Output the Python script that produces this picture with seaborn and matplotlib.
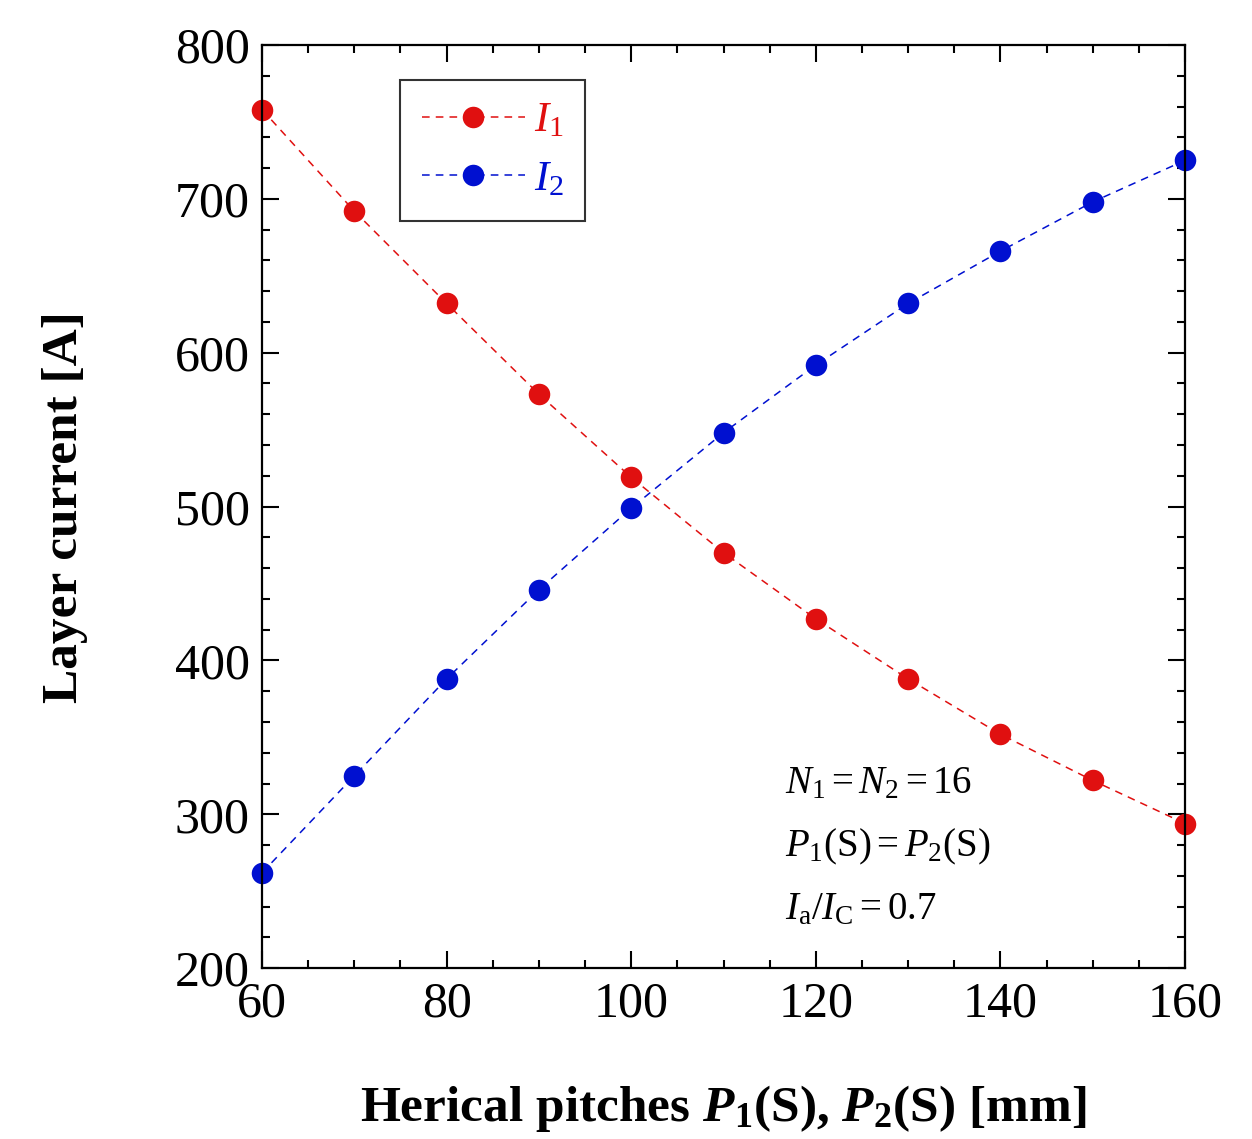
import matplotlib
matplotlib.use("Agg")
import matplotlib.pyplot as plt
from matplotlib.ticker import MultipleLocator
import seaborn as sns
import pandas as pd

pitch = [60, 70, 80, 90, 100, 110, 120, 130, 140, 150, 160]
I1 = [758, 692, 632, 573, 519, 470, 427, 388, 352, 322, 294]
I2 = [262, 325, 388, 446, 499, 548, 592, 632, 666, 698, 725]
series_labels = [r"$I_1$", r"$I_2$"]
colors = ["#e01010", "#0010d0"]

sns.set_theme(style="white")
plt.rcParams.update({
    "font.family": ["Liberation Serif", "DejaVu Serif"],
    "mathtext.fontset": "custom",
    "mathtext.rm": "Liberation Serif",
    "mathtext.it": "Liberation Serif:italic",
    "mathtext.bf": "Liberation Serif:bold",
    "mathtext.bfit": "Liberation Serif:italic:bold",
    "text.color": "black",
    "axes.labelcolor": "black",
    "xtick.color": "black",
    "ytick.color": "black",
})

fig = plt.figure(figsize=(12.52, 11.39), dpi=100)
ax = fig.add_axes([0.2093, 0.150, 0.7372, 0.8105])

for vals, lab, col in zip([I1, I2], series_labels, colors):
    df = pd.DataFrame({"pitch": pitch, "current": vals})
    sns.lineplot(data=df, x="pitch", y="current", ax=ax, color=col,
                 linestyle=(0, (5, 4)), linewidth=1.1, marker="o",
                 markersize=15.5, markeredgewidth=0, label=lab, clip_on=False)

ax.set_xlim(60, 160)
ax.set_ylim(200, 800)
ax.xaxis.set_major_locator(MultipleLocator(20))
ax.xaxis.set_minor_locator(MultipleLocator(5))
ax.yaxis.set_major_locator(MultipleLocator(100))
ax.yaxis.set_minor_locator(MultipleLocator(20))
ax.tick_params(which="both", direction="in", top=True, right=True,
               bottom=True, left=True, color="black", width=1.5)
ax.tick_params(which="major", length=12, labelsize=36, pad=9)
ax.tick_params(which="minor", length=6)
for s in ax.spines.values():
    s.set_color("black")
    s.set_linewidth(1.6)

ax.set_xlabel(r"Herical pitches $\mathbfit{P}_\mathbf{1}$(S), $\mathbfit{P}_\mathbf{2}$(S) [mm]",
              fontsize=37, fontweight="bold", labelpad=40)
ax.set_ylabel("Layer current [A]", fontsize=37, fontweight="bold", labelpad=62)

leg = ax.legend(loc="upper left", bbox_to_anchor=(0.1495, 0.962), fontsize=31,
                frameon=True, fancybox=False, edgecolor="black",
                handlelength=2.4, borderpad=0.5, labelspacing=0.45,
                handletextpad=0.2, borderaxespad=0)
leg.get_frame().set_linewidth(1.5)
for t, c in zip(leg.get_texts(), colors):
    t.set_color(c)

ax.text(0.567, 0.2, r"$N_1 = N_2 = 16$", transform=ax.transAxes, fontsize=28, va="center")
ax.text(0.567, 0.131, r"$P_1(\mathrm{S}) = P_2(\mathrm{S})$", transform=ax.transAxes, fontsize=28, va="center")
ax.text(0.567, 0.063, r"$I_\mathrm{a}/I_\mathrm{C} = 0.7$", transform=ax.transAxes, fontsize=28, va="center")

fig.savefig("out.png", dpi=100)
